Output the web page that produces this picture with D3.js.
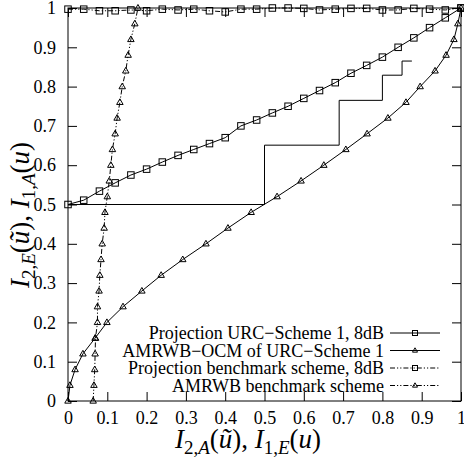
<!DOCTYPE html>
<html><head><meta charset="utf-8">
<script src="https://cdn.jsdelivr.net/npm/d3@7"></script>
<style>body{margin:0;background:#fff}svg text{font-family:"Liberation Serif","DejaVu Serif",serif;fill:#000}</style>
</head><body><svg id="c" width="464" height="459"></svg>
<script>
// ---- data ----
const xSteps = d3.range(26).map(i => +(i*0.04).toFixed(2));
const projUrcY = [0.5,0.511,0.534,0.555,0.575,0.59,0.608,0.625,0.64,0.655,0.67,0.70,0.715,0.733,0.75,0.77,0.79,0.81,0.834,0.854,0.875,0.9,0.924,0.95,0.975,1.0];
const amrOcmY = d3.range(26).map(i => +(i*0.04).toFixed(2));
const amrOcmX = [0,0.005,0.018,0.038,0.069,0.099,0.14,0.188,0.237,0.292,0.351,0.407,0.466,0.532,0.593,0.651,0.707,0.761,0.814,0.86,0.896,0.934,0.962,0.982,0.992,1.0];
const projBenchY = [0.997,0.997,0.993,0.993,0.995,0.993,0.997,0.995,0.997,0.993,0.99,0.997,0.997,1.0,1.0,0.999,0.995,0.997,0.999,0.999,0.995,0.995,0.999,0.997,0.995,1.0];
const amrBenchX = [0.064,0.066,0.068,0.069,0.07,0.075,0.075,0.079,0.081,0.084,0.087,0.092,0.094,0.1,0.105,0.109,0.113,0.12,0.125,0.132,0.138,0.147,0.153,0.16,0.17,0.178];
const stairX = [0,0.5,0.5,0.69,0.69,0.8,0.8,0.85,0.85,0.875];
const stairY = [0.5,0.5,0.651,0.651,0.765,0.765,0.829,0.829,0.865,0.865];
const tickVals = [0,0.1,0.2,0.3,0.4,0.5,0.6,0.7,0.8,0.9,1];
const legendLabels = ["Projection URC\u2212Scheme 1, 8dB","AMRWB\u2212OCM of URC\u2212Scheme 1","Projection benchmark scheme, 8dB","AMRWB benchmark scheme"];

// ---- drawing ----
const svg = d3.select("#c");
const x = d3.scaleLinear().domain([0,1]).range([68,461]);
const y = d3.scaleLinear().domain([0,1]).range([401,8]);
const dash = "5,2,1.2,2,1.2,2";

const series = [
  {xs: xSteps, ys: projUrcY, m:"sq", dash:null},
  {xs: amrOcmX, ys: amrOcmY, m:"tri", dash:null},
  {xs: xSteps, ys: projBenchY, m:"sq", dash:dash},
  {xs: amrBenchX, ys: amrOcmY, m:"tri", dash:dash}
];

const g = svg.append("g");
const line = d3.line().x(d=>x(d[0])).y(d=>y(d[1]));
g.append("path").attr("d", line(stairX.map((v,i)=>[v,stairY[i]])))
  .attr("fill","none").attr("stroke","#000").attr("stroke-width",1);

function marker(sel, type, size){
  if(type==="sq"){
    sel.append("rect").attr("x",-size/2).attr("y",-size/2).attr("width",size).attr("height",size)
      .attr("fill","none").attr("stroke","#000").attr("stroke-width",1);
  } else {
    const h = size*0.87;
    sel.append("path").attr("d",`M0,${-h*0.62}L${size/2},${h*0.38}L${-size/2},${h*0.38}Z`)
      .attr("fill","none").attr("stroke","#000").attr("stroke-width",1);
  }
}

series.forEach(s=>{
  const pts = s.xs.map((v,i)=>[v,s.ys[i]]);
  const p = g.append("path").attr("d", line(pts)).attr("fill","none").attr("stroke","#000").attr("stroke-width",1);
  if(s.dash) p.attr("stroke-dasharray", s.dash);
  pts.forEach(d=>{
    const mg = g.append("g").attr("transform",`translate(${x(d[0])},${y(d[1])})`);
    marker(mg, s.m, 6.5);
  });
});

const tl = 9;
const axB = svg.append("g").attr("transform","translate(0,401)").call(d3.axisBottom(x).tickValues(tickVals).tickSize(-tl).tickPadding(10).tickFormat(d3.format("")));
const axL = svg.append("g").attr("transform","translate(68,0)").call(d3.axisLeft(y).tickValues(tickVals).tickSize(-tl).tickPadding(tl+3).tickFormat(d3.format("")));
const axT = svg.append("g").attr("transform","translate(0,8)").call(d3.axisTop(x).tickValues(tickVals).tickSize(-tl).tickFormat(""));
const axR = svg.append("g").attr("transform","translate(461,0)").call(d3.axisRight(y).tickValues(tickVals).tickSize(-tl).tickFormat(""));
[axB,axL,axT,axR].forEach(a=>{
  a.select(".domain").remove();
  a.selectAll("line").attr("stroke","#000");
  a.selectAll("text").attr("font-family","Liberation Serif, serif").attr("font-size",18).attr("fill","#000");
});
svg.append("rect").attr("x",68).attr("y",8).attr("width",393).attr("height",393)
  .attr("fill","none").attr("stroke","#000").attr("stroke-width",1);

// legend
const lg = svg.append("g");
legendLabels.forEach((t,i)=>{
  const yy = 333 + i*17.5;
  lg.append("text").attr("x",384).attr("y",yy+6).attr("text-anchor","end").attr("font-size",18).text(t);
  const l = lg.append("line").attr("x1",390).attr("x2",440).attr("y1",yy).attr("y2",yy).attr("stroke","#000");
  if(series[i].dash) l.attr("stroke-dasharray",dash);
  const mg = lg.append("g").attr("transform",`translate(415,${yy})`);
  marker(mg, series[i].m, 5);
});

// axis titles
function mathLabel(sel, a, b){
  const sub = 19, dy = 6;
  sel.append("tspan").attr("font-style","italic").text("I");
  sel.append("tspan").attr("font-size",sub).attr("dy",dy).text("2,");
  sel.append("tspan").attr("font-size",sub).attr("font-style","italic").text(a);
  sel.append("tspan").attr("dy",-dy).text("(");
  sel.append("tspan").attr("font-style","italic").text("\u0169");
  sel.append("tspan").text("), ");
  sel.append("tspan").attr("font-style","italic").text("I");
  sel.append("tspan").attr("font-size",sub).attr("dy",dy).text("1,");
  sel.append("tspan").attr("font-size",sub).attr("font-style","italic").text(b);
  sel.append("tspan").attr("dy",-dy).text("(");
  sel.append("tspan").attr("font-style","italic").text("u");
  sel.append("tspan").text(")");
}
const xl = svg.append("text").attr("x",248).attr("y",448).attr("text-anchor","middle").attr("font-size",27);
mathLabel(xl,"A","E");
const yl = svg.append("text").attr("transform","translate(29,215) rotate(-90)").attr("text-anchor","middle").attr("font-size",27);
mathLabel(yl,"E","A");
</script></body></html>
